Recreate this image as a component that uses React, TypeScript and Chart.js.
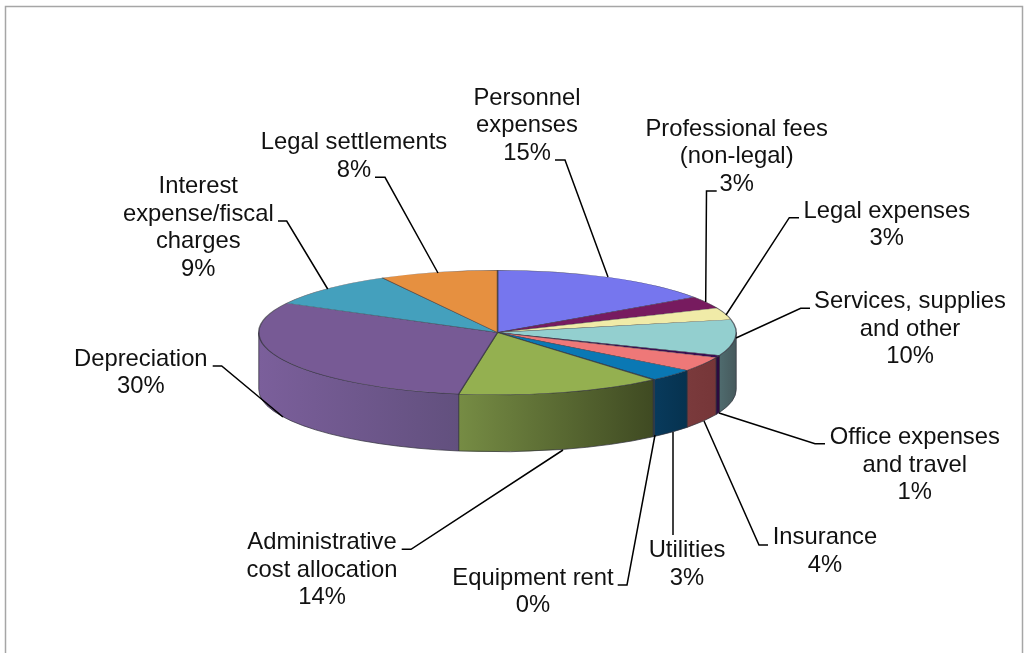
import React, { useEffect, useRef } from "react";
import { Chart, registerables } from "chart.js";

Chart.register(...registerables);

const categories = [
  "Personnel expenses", "Professional fees (non-legal)", "Legal expenses", "Services, supplies and other",
  "Office expenses and travel", "Insurance", "Utilities", "Equipment rent",
  "Administrative cost allocation", "Depreciation", "Interest expense/fiscal charges", "Legal settlements",
];
const shares = [15.4, 3.2, 3.1, 9.3, 0.6, 3.8, 3.2, 0.1, 13.9, 30.2, 9.2, 8.0];
const displayedPercents = [15, 3, 3, 10, 1, 4, 3, 0, 14, 30, 9, 8];
const labelLines = [
  ["Personnel", "expenses"], ["Professional fees", "(non-legal)"], ["Legal expenses"], ["Services, supplies", "and other"],
  ["Office expenses", "and travel"], ["Insurance"], ["Utilities"], ["Equipment rent"],
  ["Administrative", "cost allocation"], ["Depreciation"], ["Interest", "expense/fiscal", "charges"], ["Legal settlements"],
];

const topColors = ["#7676ee", "#771b5f", "#f0eba8", "#93cfcf", "#3a0e52", "#ee7878", "#0a78b4", "#0a78b4", "#94b050", "#775a95", "#44a0bd", "#e69040"];
const wallFrom = ["#4a4a98", "#4a103c", "#8f8c64", "#4f6b6e", "#2c0a40", "#7a3a3c", "#083a5c", "#083a5c", "#768c44", "#7b5f9b", "#2a6070", "#8a5626"];
const wallTo = ["#4a4a98", "#4a103c", "#8f8c64", "#46595c", "#2c0a40", "#763638", "#06324f", "#06324f", "#3f4a22", "#62507e", "#2a6070", "#8a5626"];

// label anchor: centre x, first-line baseline y; leader: polyline in page pixels
const labelLayout = [
  { x: 527, y: 105, leader: [[555, 160], [565, 160], [608, 277]] },
  { x: 736.7, y: 135.7, leader: [[716.7, 191], [706.5, 191], [705.7, 302]] },
  { x: 886.8, y: 217.7, leader: [[799, 217.7], [789.3, 217.7], [726, 315]] },
  { x: 910, y: 308.3, leader: [[810, 308.3], [800.7, 308.3], [736, 338]] },
  { x: 914.8, y: 444.3, leader: [[825, 443.7], [815, 443.7], [719, 413]] },
  { x: 825, y: 544.3, leader: [[768, 545], [759, 545], [704, 421]] },
  { x: 687, y: 557.3, leader: [[673, 535], [673, 432]] },
  { x: 533, y: 585, leader: [[617.7, 585], [627, 585], [655, 435]] },
  { x: 322, y: 549.3, leader: [[401.7, 549.3], [411, 549.3], [563, 450]] },
  { x: 140.8, y: 365.7, leader: [[212.7, 366], [221.7, 366], [283, 417]] },
  { x: 198.3, y: 193.3, leader: [[278, 221], [286.7, 221], [327.7, 289]] },
  { x: 354, y: 149.3, leader: [[375, 177.3], [385, 177.3], [438, 273]] },
];

const TILT = 62.5 / 239.5;
const DEPTH = 57;
const LINE_H = 27.4;
const EDGE = "rgba(50,50,60,0.7)";

const pie3d = {
  id: "pie3d",
  beforeDraw(chart: any) {
    const ctx = chart.ctx;
    ctx.save();
    ctx.strokeStyle = "#a6a6a6";
    ctx.lineWidth = 1.5;
    ctx.beginPath();
    ctx.moveTo(5.5, 653);
    ctx.lineTo(5.5, 6.5);
    ctx.lineTo(1022.5, 6.5);
    ctx.lineTo(1022.5, 653);
    ctx.stroke();
    ctx.restore();
  },
  beforeDatasetsDraw(chart: any) {
    const ctx = chart.ctx;
    const arcs = chart.getDatasetMeta(0).data;
    const { x: cx, y: cy, outerRadius: rx } = arcs[0];
    const ry = rx * TILT;
    arcs.forEach((arc: any, i: number) => {
      const a = Math.max(arc.startAngle, 0);
      const b = Math.min(arc.endAngle, Math.PI);
      if (b <= a) return;
      const x0 = cx + rx * Math.cos(a);
      const x1 = cx + rx * Math.cos(b);
      const g = ctx.createLinearGradient(x1, 0, x0, 0);
      g.addColorStop(0, wallFrom[i]);
      g.addColorStop(1, wallTo[i]);
      ctx.beginPath();
      ctx.ellipse(cx, cy, rx, ry, 0, a, b);
      ctx.ellipse(cx, cy + DEPTH, rx, ry, 0, b, a, true);
      ctx.closePath();
      ctx.fillStyle = g;
      ctx.fill();
      ctx.strokeStyle = EDGE;
      ctx.lineWidth = 1;
      ctx.stroke();
    });
    ctx.save();
    ctx.translate(cx, cy);
    ctx.scale(1, TILT);
    ctx.translate(-cx, -cy);
  },
  afterDatasetsDraw(chart: any) {
    const ctx = chart.ctx;
    ctx.restore();
    ctx.save();
    ctx.strokeStyle = "#000";
    ctx.lineWidth = 1.5;
    labelLayout.forEach(({ leader }) => {
      ctx.beginPath();
      leader.forEach(([x, y], k) => (k ? ctx.lineTo(x, y) : ctx.moveTo(x, y)));
      ctx.stroke();
    });
    ctx.fillStyle = "#111";
    ctx.font = '23.8px "Liberation Sans"';
    ctx.textAlign = "center";
    ctx.textBaseline = "alphabetic";
    labelLayout.forEach(({ x, y }, i) => {
      const lines = [...labelLines[i], `${displayedPercents[i]}%`];
      lines.forEach((t, k) => ctx.fillText(t, x, y + k * LINE_H));
    });
    ctx.restore();
  },
};

export default function App() {
  const ref = useRef<HTMLCanvasElement>(null);
  useEffect(() => {
    const chart = new Chart(ref.current!, {
      type: "pie",
      data: {
        labels: categories,
        datasets: [{ data: shares, backgroundColor: topColors, borderColor: EDGE, borderWidth: 1.5 }],
      },
      options: {
        responsive: false,
        animation: false,
        events: [],
        rotation: 0,
        layout: { padding: { left: 258, right: 292, top: 93, bottom: 81 } },
        plugins: { legend: { display: false }, tooltip: { enabled: false } },
      },
      plugins: [pie3d],
    } as any);
    return () => chart.destroy();
  }, []);
  return (
    <canvas
      ref={ref}
      width={1029}
      height={653}
      style={{ position: "absolute", left: 0, top: 0, display: "block", background: "#fff" }}
    />
  );
}
